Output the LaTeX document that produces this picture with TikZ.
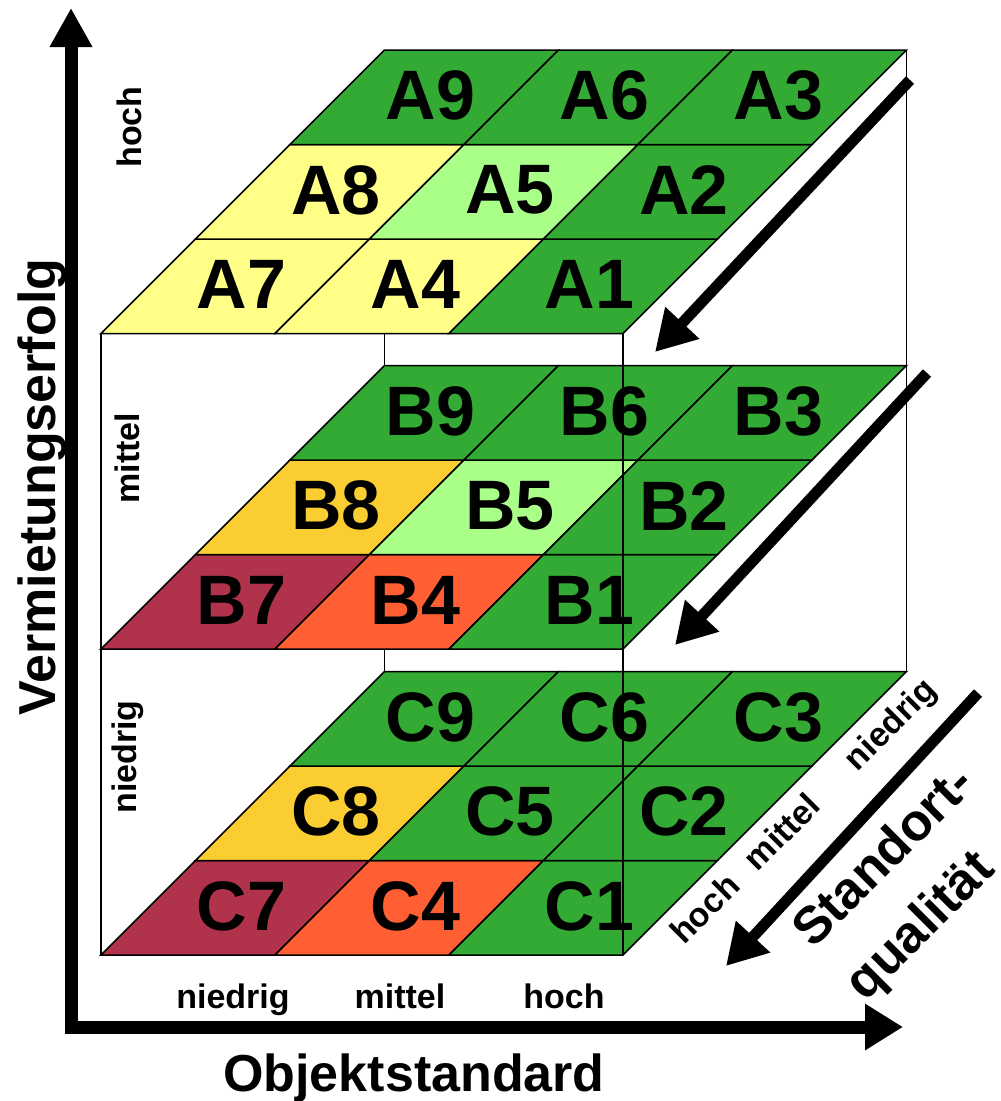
\documentclass[tikz,border=0pt]{standalone}
\usepackage{fontspec}
\setmainfont{Liberation Sans}
\usetikzlibrary{arrows.meta}
\definecolor{cgreen}{RGB}{51,170,51}
\definecolor{cyellow}{RGB}{255,255,136}
\definecolor{clgreen}{RGB}{170,255,136}
\definecolor{coy}{RGB}{250,205,50}
\definecolor{cdred}{RGB}{176,51,75}
\definecolor{cored}{RGB}{255,95,51}
% layer A
\colorlet{colA1}{cgreen}\colorlet{colA2}{cgreen}\colorlet{colA3}{cgreen}
\colorlet{colA4}{cyellow}\colorlet{colA5}{clgreen}\colorlet{colA6}{cgreen}
\colorlet{colA7}{cyellow}\colorlet{colA8}{cyellow}\colorlet{colA9}{cgreen}
% layer B
\colorlet{colB1}{cgreen}\colorlet{colB2}{cgreen}\colorlet{colB3}{cgreen}
\colorlet{colB4}{cored}\colorlet{colB5}{clgreen}\colorlet{colB6}{cgreen}
\colorlet{colB7}{cdred}\colorlet{colB8}{coy}\colorlet{colB9}{cgreen}
% layer C
\colorlet{colC1}{cgreen}\colorlet{colC2}{cgreen}\colorlet{colC3}{cgreen}
\colorlet{colC4}{cored}\colorlet{colC5}{cgreen}\colorlet{colC6}{cgreen}
\colorlet{colC7}{cdred}\colorlet{colC8}{coy}\colorlet{colC9}{cgreen}
\begin{document}
\begin{tikzpicture}[x=1pt,y=-1pt,
  cellline/.style={draw=black,line width=1.5pt,line join=miter},
  boxline/.style={draw=black,line width=1.5pt},
  celltext/.style={font=\fontsize{70}{84}\selectfont\bfseries,inner sep=0pt},
  smalllbl/.style={font=\fontsize{34}{40}\selectfont\bfseries,inner sep=0pt},
  biglbl/.style={font=\fontsize{52}{62}\selectfont\bfseries,inner sep=0pt},
  deptharrow/.style={line width=11pt,-{Triangle[length=40pt,width=44pt]}},
  axisline/.style={line width=13pt,line join=miter,{Triangle[length=39pt,width=40pt]}-{Triangle[length=38pt,width=44pt]}}]
\useasboundingbox (0,0) rectangle (1001,1101);
\fill[white] (0,0) rectangle (1001,1101);

% box corners
\coordinate (bl1) at (384.5,50);
\coordinate (bl2) at (384.5,672);
\coordinate (br1) at (906.5,50);
\coordinate (br2) at (906.5,672);
\coordinate (fl1) at (101,333.5);
\coordinate (fl2) at (101,955);
\coordinate (fr1) at (623,333.5);
\coordinate (fr2) at (623,955);

% hidden / back edges
\draw[boxline] (bl1) -- (bl2);
\draw[boxline] (br1) -- (br2);
\draw[boxline] (fl1) -- (fl2);

% layers
\foreach \L/\yf in {A/333.5,B/649,C/955}{
  \foreach \i in {0,1,2}{
    \foreach \j in {0,1,2}{
      \pgfmathtruncatemacro\n{7-3*\i+\j}
      \pgfmathsetmacro\xa{101+174*\i+94.5*\j}
      \pgfmathsetmacro\ya{\yf-94.5*\j}
      \filldraw[cellline,fill=col\L\n] (\xa,\ya) -- ++(174,0) -- ++(94.5,-94.5) -- ++(-174,0) -- cycle;
    }
  }
}

% front right edge drawn on top
\draw[boxline] (fr1) -- (fr2);

% cell labels
\foreach \L/\yf in {A/333.5,B/649,C/955}{
  \foreach \i in {0,1,2}{
    \foreach \j in {0,1,2}{
      \pgfmathtruncatemacro\n{7-3*\i+\j}
      \pgfmathsetmacro\xc{101+174*\i+94.5*\j+134.25+6}
      \pgfmathsetmacro\yc{\yf-94.5*\j-47.25-1.5}
      \node[celltext] (\L\n) at (\xc,\yc) {\L\n};
    }
  }
}

% depth arrows
\coordinate (d1s) at (910,80);  \coordinate (d1e) at (655,352);
\coordinate (d2s) at (927,373); \coordinate (d2e) at (675,645);
\coordinate (d3s) at (978,693); \coordinate (d3e) at (726,966);
\draw[deptharrow] (d1s) -- (d1e);
\draw[deptharrow] (d2s) -- (d2e);
\draw[deptharrow] (d3s) -- (d3e);

% axes
\coordinate (ytip) at (71,8);
\coordinate (corner) at (71,1027);
\coordinate (xtip) at (903,1027);
\draw[axisline] (ytip) -- (corner) -- (xtip);

% axis labels
\node[biglbl,rotate=90,anchor=base] (yl) at (55,487) {Vermietungserfolg};
\node[biglbl,anchor=base] (xl) at (414,1091) {Objektstandard};
\node[biglbl,rotate=45,anchor=base west] (zl1) at (813,950) {Standort-};
\node[biglbl,rotate=45,anchor=base west] (zl2) at (865.5,1002.5) {qualität};

% level labels vertical
\node[smalllbl,rotate=90,anchor=base] (vh) at (141,127) {hoch};
\node[smalllbl,rotate=90,anchor=base] (vm) at (139,458) {mittel};
\node[smalllbl,rotate=90,anchor=base] (vn) at (136,757) {niedrig};
% level labels horizontal
\node[smalllbl,anchor=base] (hn) at (233,1008) {niedrig};
\node[smalllbl,anchor=base] (hm) at (400,1008) {mittel};
\node[smalllbl,anchor=base] (hh) at (564,1008) {hoch};
% level labels depth
\node[smalllbl,rotate=45,anchor=base] (dh) at (713,917) {hoch};
\node[smalllbl,rotate=45,anchor=base] (dm) at (790,840) {mittel};
\node[smalllbl,rotate=45,anchor=base] (dn) at (898,732) {niedrig};
\end{tikzpicture}
\end{document}
